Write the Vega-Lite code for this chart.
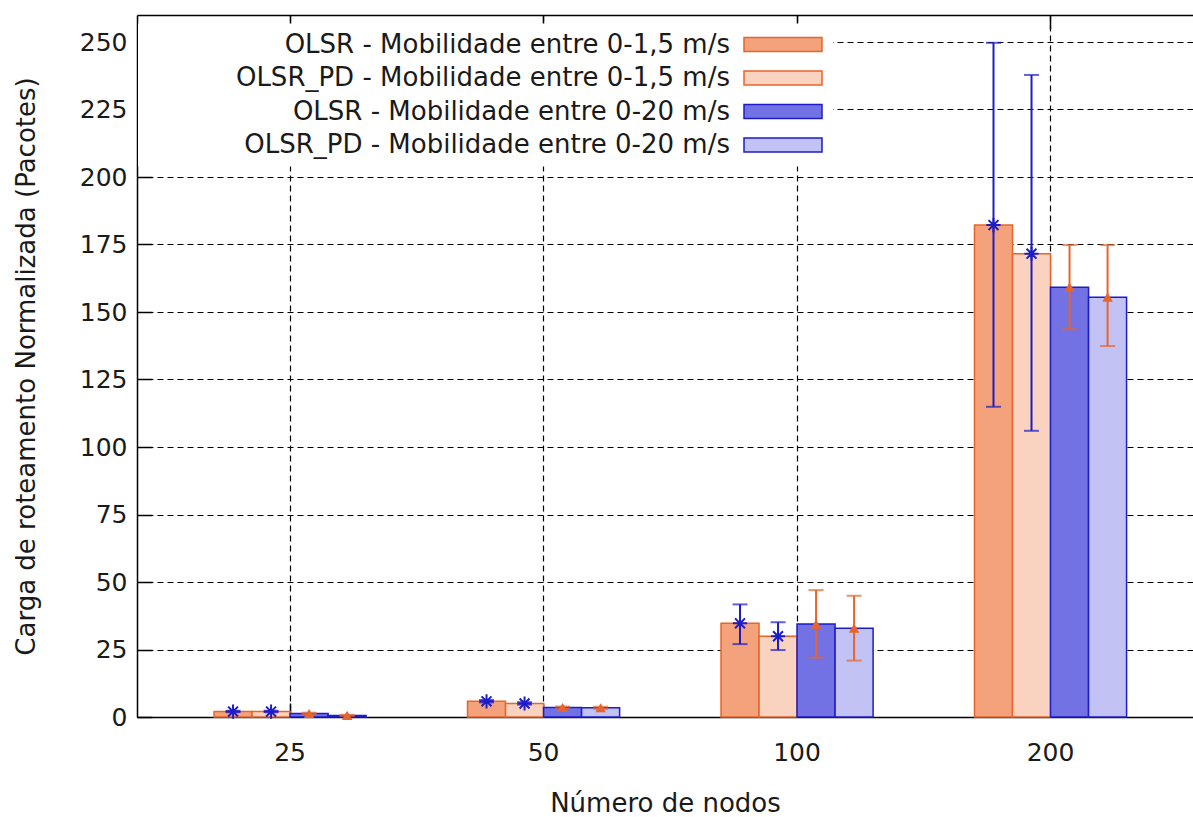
{
  "$schema": "https://vega.github.io/schema/vega-lite/v6.json",
  "width": 1056,
  "height": 702,
  "autosize": {"type": "none"},
  "padding": {"left": 137, "top": 15, "right": 0, "bottom": 100},
  "background": "white",
  "config": {
    "font": "DejaVu Sans",
    "view": {"stroke": null},
    "axis": {
      "labelFont": "DejaVu Sans", "titleFont": "DejaVu Sans",
      "labelFontSize": 25, "titleFontSize": 26, "titleFontWeight": "normal",
      "labelColor": "#1a1a1a", "titleColor": "#1a1a1a",
      "domainColor": "black", "domainWidth": 1.5,
      "tickColor": "black", "tickWidth": 1.5,
      "gridColor": "black", "gridDash": [6, 4], "gridWidth": 1.2, "gridOpacity": 1
    },
    "legend": {
      "orient": "none", "legendX": 1, "legendY": 8.5, "title": null,
      "symbolType": "M-5.571,-1H5.571V1H-5.571Z", "symbolSize": 196, "symbolStrokeWidth": 1.5,
      "symbolOffset": 624,
      "labelAlign": "right", "labelOffset": -66, "labelFontSize": 26, "labelFont": "DejaVu Sans",
      "labelColor": "#1a1a1a", "labelLimit": 0, "rowPadding": 7.5, "fillColor": "white", "padding": 8
    }
  },
  "data": {"values": [
    {"n": "25", "serie": "OLSR - Mobilidade entre 0-1,5 m/s", "val": 2.0, "lo": 1.8, "hi": 2.3},
    {"n": "25", "serie": "OLSR_PD - Mobilidade entre 0-1,5 m/s", "val": 2.0, "lo": 1.8, "hi": 2.3},
    {"n": "25", "serie": "OLSR - Mobilidade entre 0-20 m/s", "val": 1.3, "lo": 1.1, "hi": 1.6},
    {"n": "25", "serie": "OLSR_PD - Mobilidade entre 0-20 m/s", "val": 0.6, "lo": 0.4, "hi": 0.8},
    {"n": "50", "serie": "OLSR - Mobilidade entre 0-1,5 m/s", "val": 5.8, "lo": 5.4, "hi": 6.3},
    {"n": "50", "serie": "OLSR_PD - Mobilidade entre 0-1,5 m/s", "val": 5.0, "lo": 4.6, "hi": 5.5},
    {"n": "50", "serie": "OLSR - Mobilidade entre 0-20 m/s", "val": 3.5, "lo": 3.1, "hi": 3.9},
    {"n": "50", "serie": "OLSR_PD - Mobilidade entre 0-20 m/s", "val": 3.4, "lo": 3.0, "hi": 3.8},
    {"n": "100", "serie": "OLSR - Mobilidade entre 0-1,5 m/s", "val": 34.7, "lo": 27.0, "hi": 41.7},
    {"n": "100", "serie": "OLSR_PD - Mobilidade entre 0-1,5 m/s", "val": 29.9, "lo": 24.8, "hi": 35.1},
    {"n": "100", "serie": "OLSR - Mobilidade entre 0-20 m/s", "val": 34.4, "lo": 22.0, "hi": 47.0},
    {"n": "100", "serie": "OLSR_PD - Mobilidade entre 0-20 m/s", "val": 32.9, "lo": 20.9, "hi": 44.9},
    {"n": "200", "serie": "OLSR - Mobilidade entre 0-1,5 m/s", "val": 182.2, "lo": 114.9, "hi": 249.7},
    {"n": "200", "serie": "OLSR_PD - Mobilidade entre 0-1,5 m/s", "val": 171.6, "lo": 106.0, "hi": 237.8},
    {"n": "200", "serie": "OLSR - Mobilidade entre 0-20 m/s", "val": 159.2, "lo": 143.6, "hi": 174.8},
    {"n": "200", "serie": "OLSR_PD - Mobilidade entre 0-20 m/s", "val": 155.5, "lo": 137.4, "hi": 174.8}
  ]},
  "resolve": {"axis": {"x": "independent"}},
  "layer": [
    {
      "mark": {"type": "bar", "strokeWidth": 1.5},
      "encoding": {
        "x": {"field": "n", "type": "ordinal", "sort": ["25", "50", "100", "200"],
          "scale": {"paddingInner": 0.4, "paddingOuter": 0.283, "align": 0.537},
          "axis": {"orient": "bottom", "title": "Número de nodos", "labelAngle": 0, "grid": true, "bandPosition": 0.5,
            "tickSize": -14, "labelPadding": 37, "titlePadding": 25, "domain": true}},
        "xOffset": {"field": "serie", "type": "nominal",
          "sort": ["OLSR - Mobilidade entre 0-1,5 m/s", "OLSR_PD - Mobilidade entre 0-1,5 m/s", "OLSR - Mobilidade entre 0-20 m/s", "OLSR_PD - Mobilidade entre 0-20 m/s"],
          "scale": {"paddingInner": 0, "paddingOuter": 0}},
        "y": {"field": "val", "type": "quantitative", "title": "Carga de roteamento Normalizada (Pacotes)",
          "scale": {"domain": [0, 260], "nice": false},
          "axis": {"values": [0, 25, 50, 75, 100, 125, 150, 175, 200, 225, 250], "grid": true, "tickSize": -15, "labelPadding": 25, "titlePadding": 40}},
        "fill": {"field": "serie", "type": "nominal",
          "sort": ["OLSR - Mobilidade entre 0-1,5 m/s", "OLSR_PD - Mobilidade entre 0-1,5 m/s", "OLSR - Mobilidade entre 0-20 m/s", "OLSR_PD - Mobilidade entre 0-20 m/s"],
          "scale": {"range": ["#F3A27C", "#FAD3C0", "#7272E4", "#C2C2F4"]},
          "legend": {"encode": {"symbols": {"update": {"stroke": {"scale": "stroke", "field": "value"}}}}}},
        "stroke": {"field": "serie", "type": "nominal", "legend": null,
          "sort": ["OLSR - Mobilidade entre 0-1,5 m/s", "OLSR_PD - Mobilidade entre 0-1,5 m/s", "OLSR - Mobilidade entre 0-20 m/s", "OLSR_PD - Mobilidade entre 0-20 m/s"],
          "scale": {"range": ["#E8642A", "#E8642A", "#1C1CC8", "#1C1CC8"]}}
      }
    },
    {
      "mark": {"type": "rule", "strokeWidth": 2},
      "encoding": {
        "x": {"field": "n", "type": "ordinal", "sort": ["25", "50", "100", "200"],
          "axis": {"orient": "top", "title": null, "labels": false, "grid": false, "bandPosition": 0.5, "tickSize": -14, "domain": true}},
        "xOffset": {"field": "serie", "type": "nominal",
          "sort": ["OLSR - Mobilidade entre 0-1,5 m/s", "OLSR_PD - Mobilidade entre 0-1,5 m/s", "OLSR - Mobilidade entre 0-20 m/s", "OLSR_PD - Mobilidade entre 0-20 m/s"]},
        "y": {"field": "lo", "type": "quantitative", "title": "Carga de roteamento Normalizada (Pacotes)"},
        "y2": {"field": "hi"},
        "color": {"field": "serie", "type": "nominal", "legend": null,
          "sort": ["OLSR - Mobilidade entre 0-1,5 m/s", "OLSR_PD - Mobilidade entre 0-1,5 m/s", "OLSR - Mobilidade entre 0-20 m/s", "OLSR_PD - Mobilidade entre 0-20 m/s"],
          "scale": {"range": ["#1C1CC8", "#1C1CC8", "#E8642A", "#E8642A"]}}
      }
    },
    {
      "mark": {"type": "tick", "size": 15, "thickness": 2},
      "encoding": {
        "x": {"field": "n", "type": "ordinal", "sort": ["25", "50", "100", "200"], "axis": null},
        "xOffset": {"field": "serie", "type": "nominal",
          "sort": ["OLSR - Mobilidade entre 0-1,5 m/s", "OLSR_PD - Mobilidade entre 0-1,5 m/s", "OLSR - Mobilidade entre 0-20 m/s", "OLSR_PD - Mobilidade entre 0-20 m/s"]},
        "y": {"field": "lo", "type": "quantitative", "title": "Carga de roteamento Normalizada (Pacotes)"},
        "color": {"field": "serie", "type": "nominal", "legend": null,
          "sort": ["OLSR - Mobilidade entre 0-1,5 m/s", "OLSR_PD - Mobilidade entre 0-1,5 m/s", "OLSR - Mobilidade entre 0-20 m/s", "OLSR_PD - Mobilidade entre 0-20 m/s"]}
      }
    },
    {
      "mark": {"type": "tick", "size": 15, "thickness": 2},
      "encoding": {
        "x": {"field": "n", "type": "ordinal", "sort": ["25", "50", "100", "200"], "axis": null},
        "xOffset": {"field": "serie", "type": "nominal",
          "sort": ["OLSR - Mobilidade entre 0-1,5 m/s", "OLSR_PD - Mobilidade entre 0-1,5 m/s", "OLSR - Mobilidade entre 0-20 m/s", "OLSR_PD - Mobilidade entre 0-20 m/s"]},
        "y": {"field": "hi", "type": "quantitative", "title": "Carga de roteamento Normalizada (Pacotes)"},
        "color": {"field": "serie", "type": "nominal", "legend": null,
          "sort": ["OLSR - Mobilidade entre 0-1,5 m/s", "OLSR_PD - Mobilidade entre 0-1,5 m/s", "OLSR - Mobilidade entre 0-20 m/s", "OLSR_PD - Mobilidade entre 0-20 m/s"]}
      }
    },
    {
      "transform": [{"filter": "indexof(datum.serie, '0-1,5') >= 0"}],
      "mark": {"type": "point", "filled": false, "strokeWidth": 2, "size": 200, "opacity": 1,
        "shape": "M-1,0H1M0,-1V1M-0.7,-0.7L0.7,0.7M-0.7,0.7L0.7,-0.7"},
      "encoding": {
        "x": {"field": "n", "type": "ordinal", "sort": ["25", "50", "100", "200"], "axis": null},
        "xOffset": {"field": "serie", "type": "nominal",
          "sort": ["OLSR - Mobilidade entre 0-1,5 m/s", "OLSR_PD - Mobilidade entre 0-1,5 m/s", "OLSR - Mobilidade entre 0-20 m/s", "OLSR_PD - Mobilidade entre 0-20 m/s"]},
        "y": {"field": "val", "type": "quantitative", "title": "Carga de roteamento Normalizada (Pacotes)"},
        "color": {"field": "serie", "type": "nominal", "legend": null,
          "sort": ["OLSR - Mobilidade entre 0-1,5 m/s", "OLSR_PD - Mobilidade entre 0-1,5 m/s", "OLSR - Mobilidade entre 0-20 m/s", "OLSR_PD - Mobilidade entre 0-20 m/s"]}
      }
    },
    {
      "transform": [{"filter": "indexof(datum.serie, '0-20') >= 0"}],
      "mark": {"type": "point", "filled": true, "size": 110, "opacity": 1, "shape": "triangle-up"},
      "encoding": {
        "x": {"field": "n", "type": "ordinal", "sort": ["25", "50", "100", "200"], "axis": null},
        "xOffset": {"field": "serie", "type": "nominal",
          "sort": ["OLSR - Mobilidade entre 0-1,5 m/s", "OLSR_PD - Mobilidade entre 0-1,5 m/s", "OLSR - Mobilidade entre 0-20 m/s", "OLSR_PD - Mobilidade entre 0-20 m/s"]},
        "y": {"field": "val", "type": "quantitative", "title": "Carga de roteamento Normalizada (Pacotes)"},
        "color": {"field": "serie", "type": "nominal", "legend": null,
          "sort": ["OLSR - Mobilidade entre 0-1,5 m/s", "OLSR_PD - Mobilidade entre 0-1,5 m/s", "OLSR - Mobilidade entre 0-20 m/s", "OLSR_PD - Mobilidade entre 0-20 m/s"]}
      }
    }
  ]
}
